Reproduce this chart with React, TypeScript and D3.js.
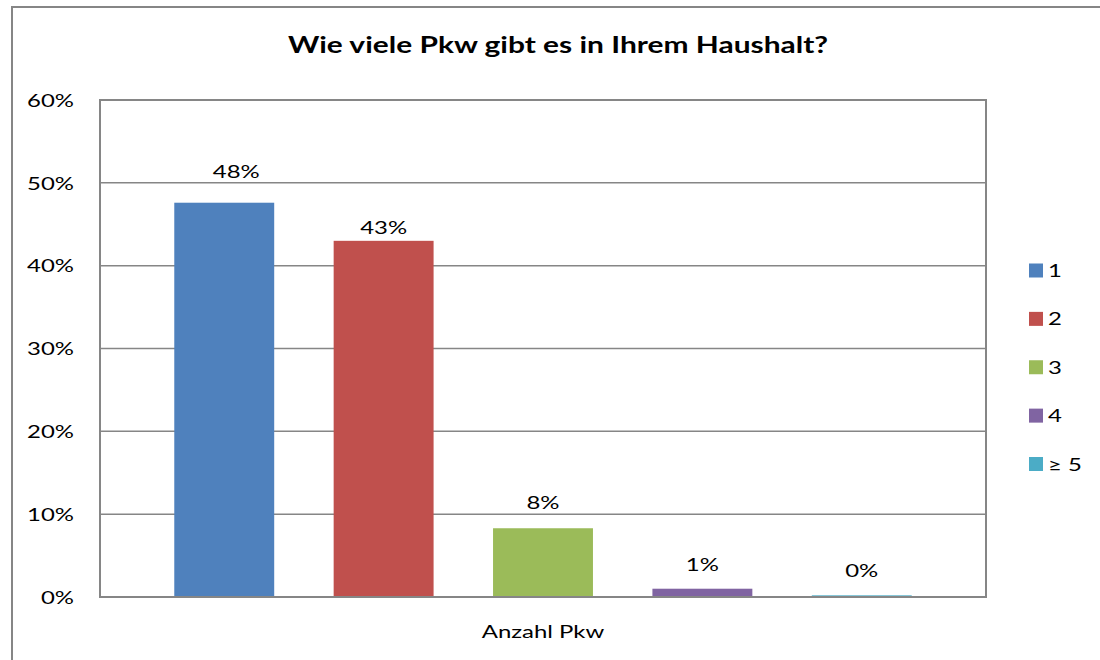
import * as d3 from "d3";
import { useEffect, useRef } from "react";

const title = "Wie viele Pkw gibt es in Ihrem Haushalt?";
const categoryLabel = "Anzahl Pkw";
const seriesNames = ["1", "2", "3", "4", "≥ 5"];
const seriesValues = [0.476, 0.43, 0.083, 0.01, 0.002];
const seriesColors = ["#4f81bd", "#c0504d", "#9bbb59", "#8064a2", "#4bacc6"];
const yTicks = [0, 0.1, 0.2, 0.3, 0.4, 0.5, 0.6];

// label placement as in the original (some labels were moved by hand)
const labelDx = [12, 0, 0, 0, 0];
const labelGap = [25, 7, 19, 18, 18];

const W = 1100;
const H = 660;
const plot = { left: 100, top: 100, right: 986, bottom: 597 };
const font = "Lato, 'Open Sans', sans-serif";
const sx = 1.33; // the reference text is wide, stretch Lato a bit
const gridColor = "#868686";

function Label({ x, y, anchor = "start", size = 18, bold = false, children }) {
  return (
    <text
      transform={`translate(${x}, ${y}) scale(${sx}, 1)`}
      textAnchor={anchor}
      fontFamily={font}
      fontWeight={bold ? "bold" : "normal"}
      fontSize={size}
      fill="#000"
    >
      {children}
    </text>
  );
}

function AxisLeft({ scale }) {
  const ref = useRef(null);

  useEffect(() => {
    if (ref.current) {
      const axis = d3.axisLeft(scale)
        .tickValues(yTicks)
        .tickFormat(d3.format(".0%"))
        .tickSize(0)
        .tickPadding(26);
      const g = d3.select(ref.current).call(axis);
      g.select(".domain").remove();
      g.selectAll("text")
        .attr("x", 0)
        .attr("dy", "0.35em")
        .attr("transform", `translate(-26, 0) scale(${sx}, 1)`)
        .attr("font-family", font)
        .attr("font-size", 18)
        .attr("fill", "#000");
    }
  }, [ref, scale]);

  return <g ref={ref} transform={`translate(${plot.left}, 0)`} />;
}

function Bars({ scaleX, scaleY }) {
  const fmt = d3.format(".0%");
  return (
    <>
      {seriesNames.map((name, i) => {
        const v = seriesValues[i];
        const x = scaleX(name);
        return (
          <g key={`bar-${name}`}>
            <rect
              x={x}
              y={scaleY(v)}
              width={scaleX.bandwidth()}
              height={scaleY(0) - scaleY(v)}
              fill={seriesColors[i]}
            />
            <Label
              x={x + scaleX.bandwidth() / 2 + labelDx[i]}
              y={scaleY(v) - labelGap[i]}
              anchor="middle"
            >
              {fmt(v)}
            </Label>
          </g>
        );
      })}
    </>
  );
}

function Legend() {
  const scaleL = d3.scalePoint().domain(seriesNames).range([270.5, 464]);
  return (
    <g>
      {seriesNames.map((name, i) => (
        <g key={`leg-${name}`}>
          <rect x={1029} y={scaleL(name) - 7} width={14} height={14} fill={seriesColors[i]} />
          <Label x={1048} y={scaleL(name) + 6.5}>{name}</Label>
        </g>
      ))}
    </g>
  );
}

export default function App() {
  const scaleX = d3.scaleBand()
    .domain(seriesNames)
    .range([plot.left, plot.right])
    .paddingInner(0.373)
    .paddingOuter(0.466);
  const scaleY = d3.scaleLinear()
    .domain([0, 0.6])
    .range([plot.bottom, plot.top]);

  return (
    <svg
      width={W}
      height={H}
      style={{ position: "absolute", left: 0, top: 0, background: "#fff" }}
    >
      <rect x={12} y={7} width={W} height={H} fill="#fff" stroke={gridColor} strokeWidth={2} />
      <Label x={558} y={53} anchor="middle" size={22.5} bold>
        {title}
      </Label>
      {yTicks.map((t) => (
        <line
          key={`grid-${t}`}
          x1={plot.left}
          x2={plot.right}
          y1={scaleY(t)}
          y2={scaleY(t)}
          stroke={gridColor}
          strokeWidth={1.5}
        />
      ))}
      <rect
        x={plot.left}
        y={plot.top}
        width={plot.right - plot.left}
        height={plot.bottom - plot.top}
        fill="none"
        stroke={gridColor}
        strokeWidth={2}
      />
      <Bars scaleX={scaleX} scaleY={scaleY} />
      <AxisLeft scale={scaleY} />
      <line x1={plot.left} x2={plot.right} y1={plot.bottom} y2={plot.bottom} stroke={gridColor} strokeWidth={2} />
      <Label x={(plot.left + plot.right) / 2} y={638} anchor="middle">
        {categoryLabel}
      </Label>
      <Legend />
    </svg>
  );
}
